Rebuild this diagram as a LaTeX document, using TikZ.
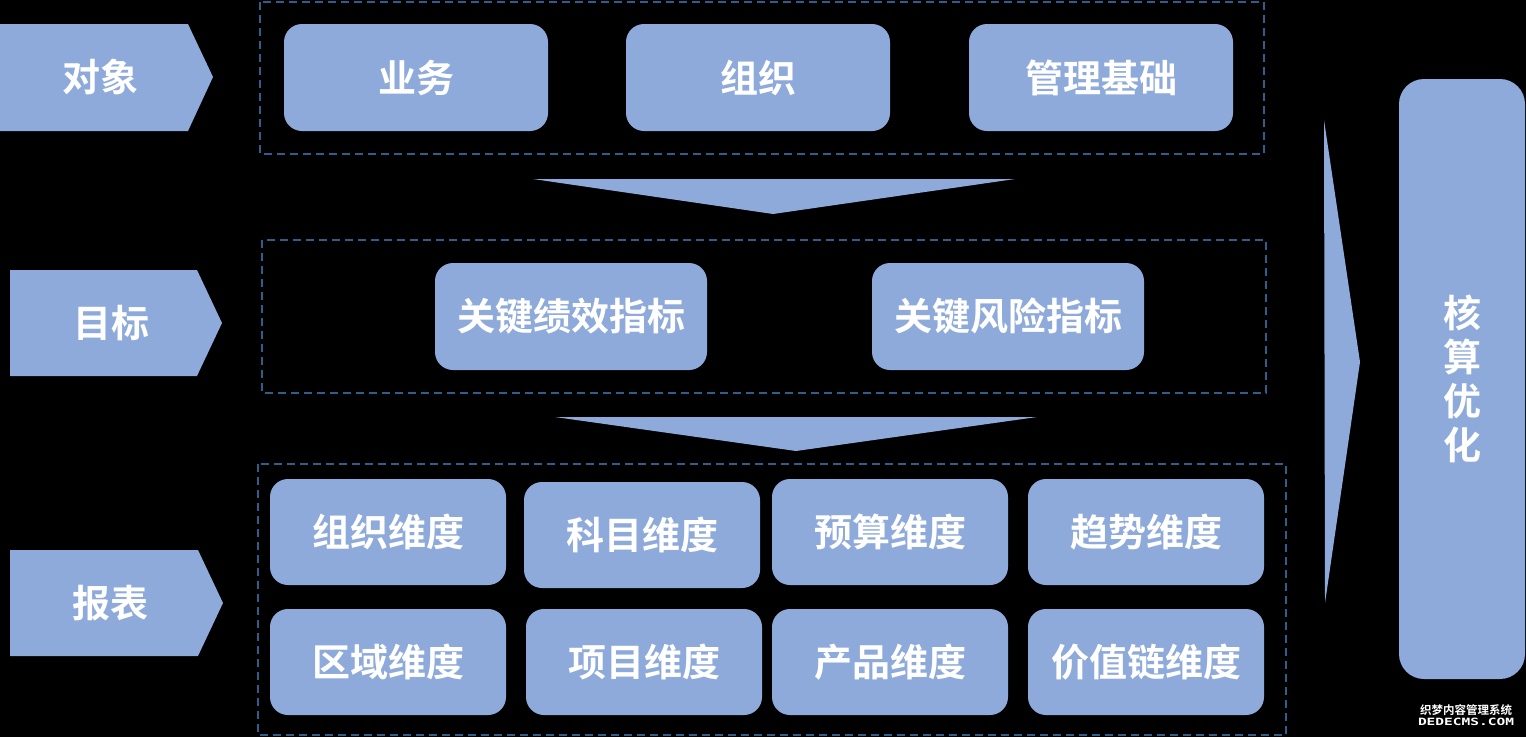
\documentclass[tikz,border=0pt]{standalone}
\usepackage{fontspec}
\newfontfamily\cjk{Noto Sans CJK SC}[BoldFont=* Bold]
\newfontfamily\wmono{DejaVu Sans Mono}
\definecolor{boxblue}{HTML}{8EAADB}
\definecolor{dashblue}{HTML}{2E5E8C}
\tikzset{
  box/.style={fill=boxblue, rounded corners=18pt, inner sep=0pt, text=white,
    font=\cjk\bfseries\fontsize{38}{44}\selectfont},
  frame/.style={draw=dashblue, line width=1.5pt, dash pattern=on 8pt off 5pt},
  chev/.style={fill=boxblue},
  lbl/.style={text=white, font=\cjk\bfseries\fontsize{38}{44}\selectfont, inner sep=0pt}
}
\begin{document}
\begin{tikzpicture}[x=1pt,y=-1pt]
\useasboundingbox (0,0) rectangle (1526,737);
\fill[black] (0,0) rectangle (1526,737);
% dashed frames
\draw[frame] (260,2) rectangle (1264,154);
\draw[frame] (262,240) rectangle (1266,393);
\draw[frame] (258,464) rectangle (1286,735);
% chevrons
\fill[chev] (0,24) -- (188,24) -- (213,77) -- (188,131) -- (0,131) -- cycle;
\fill[chev] (10,270) -- (197,270) -- (222,323) -- (197,376) -- (10,376) -- cycle;
\fill[chev] (10,550) -- (198,550) -- (223,603) -- (198,656) -- (10,656) -- cycle;
\node[lbl] (obj) at (100,77) {对象};
\node[lbl] (goal) at (111,323) {目标};
\node[lbl] (rep) at (110,603) {报表};
% down arrows
\fill[chev] (533,179) -- (1015,179) -- (773,214) -- cycle;
\fill[chev] (555,417) -- (1037,417) -- (796,451) -- cycle;
% right arrow
\fill[chev] (1324,120) -- (1360,362) -- (1325,603) -- cycle;
% top row
\node[box, minimum width=264pt, minimum height=107pt] (yw) at (416,77.5) {业务};
\node[box, minimum width=264pt, minimum height=107pt] (zz) at (758,77.5) {组织};
\node[box, minimum width=264pt, minimum height=107pt] (gl) at (1101,77.5) {管理基础};
% middle row
\node[box, minimum width=272pt, minimum height=107pt] (kpi) at (571,316.5) {关键绩效指标};
\node[box, minimum width=272pt, minimum height=107pt] (kri) at (1008,316.5) {关键风险指标};
% bottom rows
\node[box, minimum width=236pt, minimum height=106pt] (d1) at (388,532) {组织维度};
\node[box, minimum width=236pt, minimum height=106pt] (d2) at (642,535) {科目维度};
\node[box, minimum width=236pt, minimum height=106pt] (d3) at (890,532) {预算维度};
\node[box, minimum width=236pt, minimum height=106pt] (d4) at (1146,532) {趋势维度};
\node[box, minimum width=236pt, minimum height=106pt] (d5) at (388,662) {区域维度};
\node[box, minimum width=236pt, minimum height=106pt] (d6) at (644,662) {项目维度};
\node[box, minimum width=236pt, minimum height=106pt] (d7) at (890,662) {产品维度};
\node[box, minimum width=236pt, minimum height=106pt] (d8) at (1146,662) {价值链维度};
% right box
\node[box, rounded corners=25pt, minimum width=126pt, minimum height=600pt, align=center] (opt) at (1462,379) {核\\算\\优\\化};
% watermark
\node[text=white, inner sep=0pt, font=\cjk\bfseries\fontsize{11.5}{12}\selectfont] (wm1) at (1466,710) {织梦内容管理系统};
\node[text=white, inner sep=0pt, font=\wmono\bfseries\fontsize{10}{10}\selectfont, xscale=1.45, transform shape] (wm2) at (1466,722) {DEDECMS.COM};
\end{tikzpicture}
\end{document}
